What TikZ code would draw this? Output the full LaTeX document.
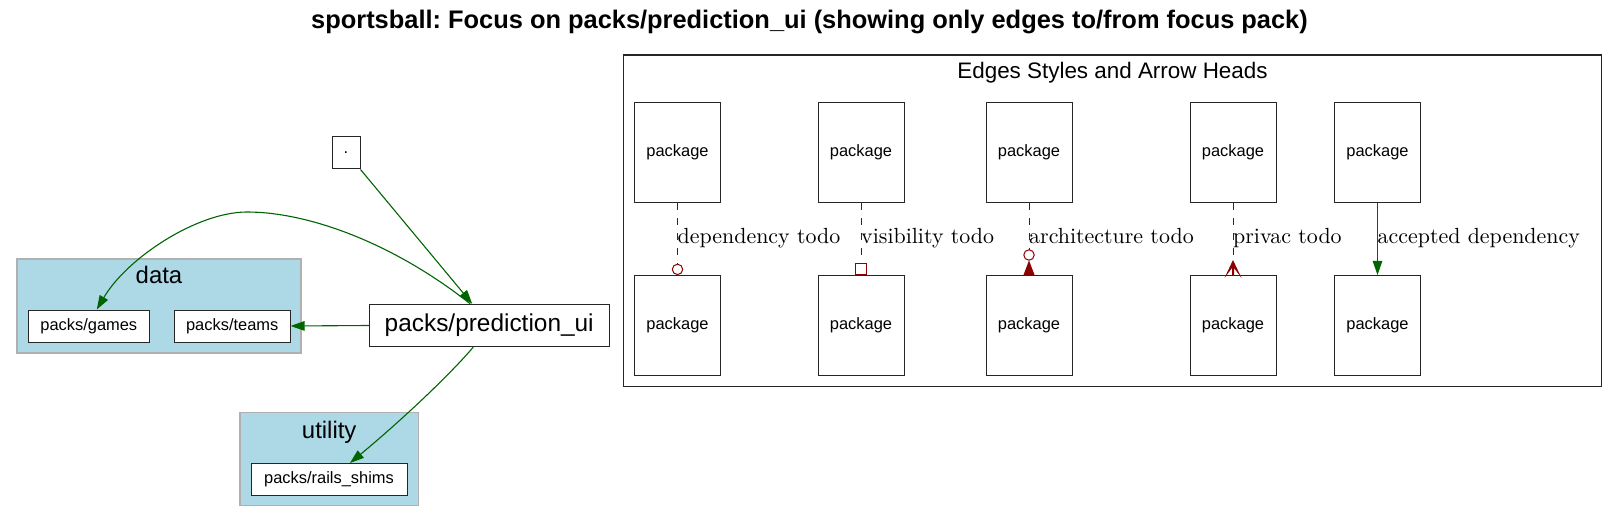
\documentclass[tikz,border=0pt]{standalone}
\usepackage{fontspec}
\newfontfamily\arialf{Liberation Sans}
\newfontfamily\lmten{lmroman10-regular}[Extension=.otf]
\usetikzlibrary{arrows.meta,calc}
\definecolor{dgreen}{HTML}{006400}
\definecolor{dred}{HTML}{8B0000}
\definecolor{lblue}{HTML}{ADD8E6}
\definecolor{cgray}{HTML}{B0B0B0}
\frenchspacing
\begin{document}
\begin{tikzpicture}[x=1bp,y=-1bp,
  box/.style={draw=black!85, line width=1bp, fill=white, inner sep=0pt, font=\arialf\fontsize{16.5}{18}\selectfont},
  pkg/.style={box, minimum width=86bp, minimum height=100bp},
  cluster/.style={draw=cgray, line width=1.2bp, fill=lblue, inner sep=0pt},
  clabel/.style={font=\arialf\fontsize{24}{28}\selectfont, anchor=base, inner sep=0pt},
  dep/.style={draw=dgreen, line width=1.1bp, -{Triangle[length=14bp,width=9.5bp]}},
  todo/.style={draw=dred, line width=1bp, dash pattern=on 7bp off 8bp},
  headline/.style={draw=dred, line width=1bp},
  elabel/.style={font=\lmten\fontsize{22}{26}\selectfont, anchor=base west, inner sep=0pt},
]
\useasboundingbox (0,0) rectangle (1619,523);
\node[font=\arialf\bfseries\fontsize{25.5}{30}\selectfont, anchor=base, inner sep=0pt] (title) at (809.5,29) {sportsball: Focus on packs/prediction\_ui (showing only edges to/from focus pack)};

% clusters
\node[cluster, minimum width=284bp, minimum height=94bp] (data) at (159,306) {};
\node[clabel] (datalabel) at (159,284) {data};
\node[cluster, minimum width=178.3bp, minimum height=93bp] (utility) at (329.2,459.2) {};
\node[clabel] (utilitylabel) at (329.2,438.3) {utility};

% nodes
\node[box, minimum width=121bp, minimum height=32bp] (games) at (88.8,326) {packs/games};
\node[box, minimum width=115.7bp, minimum height=32bp] (teams) at (232.2,326) {packs/teams};
\node[box, minimum width=239.7bp, minimum height=42.4bp, font=\arialf\fontsize{24.5}{28}\selectfont] (pred) at (489.2,325.5) {packs/prediction\_ui};
\node[box, minimum width=28bp, minimum height=32bp] (dot) at (346,153) {.};
\node[box, minimum width=156bp, minimum height=32bp] (rails) at (329,479.5) {packs/rails\_shims};

% edges
\draw[dep] (dot.south east) -- ([xshift=-17bp]pred.north);
\draw[dep] (pred.west) -- (teams.east);
\draw[dep] ([xshift=-19bp]pred.north) .. controls (392,242) and (307,212) .. (247,212) .. controls (197,212) and (127,258) .. ([xshift=8bp]games.north);
\draw[dep] ([xshift=-16bp]pred.south) .. controls (447,378) and (396,425) .. ([xshift=21bp]rails.north);

% legend
\node[draw=black!85, line width=1.1bp, inner sep=0pt, minimum width=977.8bp, minimum height=331.7bp] (legend) at (1112.5,220.9) {};
\node[font=\arialf\fontsize{22.5}{26}\selectfont, anchor=base, inner sep=0pt] (legendtitle) at (1112.5,78.3) {Edges Styles and Arrow Heads};

\node[pkg] (p1t) at (677.5,152.5) {package};
\node[pkg] (p1b) at (677.5,325.5) {package};
\node[pkg] (p2t) at (861,152.5) {package};
\node[pkg] (p2b) at (861,325.5) {package};
\node[pkg] (p3t) at (1029,152.5) {package};
\node[pkg] (p3b) at (1029,325.5) {package};
\node[pkg] (p4t) at (1233,152.5) {package};
\node[pkg] (p4b) at (1233,325.5) {package};
\node[pkg] (p5t) at (1377.5,152.5) {package};
\node[pkg] (p5b) at (1377.5,325.5) {package};

% dependency todo: open circle
\draw[todo] (p1t.south) -- ($(p1b.north)+(0,-10.8)$);
\draw[headline, fill=white] ($(p1b.north)+(0,-5.6)$) circle[radius=5.2bp];
\node[elabel] (l1) at ($(p1t.south)+(0,40)$) {dependency todo};

% visibility todo: open box
\draw[todo] (p2t.south) -- ($(p2b.north)+(0,-11.6)$);
\draw[headline, fill=white] ($(p2b.north)+(-5.6,-11.6)$) rectangle ($(p2b.north)+(5.6,0)$);
\node[elabel] (l2) at ($(p2t.south)+(0,40)$) {visibility todo};

% architecture todo: open circle + inverted filled triangle
\draw[todo] (p3t.south) -- ($(p3b.north)+(0,-25.3)$);
\draw[headline, fill=white] ($(p3b.north)+(0,-20)$) circle[radius=5.2bp];
\fill[dred] ($(p3b.north)+(0,-14.6)$) -- ($(p3b.north)+(5.7,0.4)$) -- ($(p3b.north)+(-5.7,0.4)$) -- cycle;
\node[elabel] (l3) at ($(p3t.south)+(0,40)$) {architecture todo};

% privac todo: crow
\draw[todo] (p4t.south) -- ($(p4b.north)+(0,-14.7)$);
\fill[dred] ($(p4b.north)+(0,-15)$) -- ($(p4b.north)+(8.5,3)$) -- ($(p4b.north)+(1,-7)$) -- ($(p4b.north)+(1,0)$) -- ($(p4b.north)+(-1,0)$) -- ($(p4b.north)+(-1,-7)$) -- ($(p4b.north)+(-8.5,3)$) -- cycle;
\node[elabel] (l4) at ($(p4t.south)+(0,40)$) {privac todo};

% accepted dependency
\draw[dep] (p5t.south) -- (p5b.north);
\node[elabel] (l5) at ($(p5t.south)+(0,40)$) {accepted dependency};
\end{tikzpicture}
\end{document}
